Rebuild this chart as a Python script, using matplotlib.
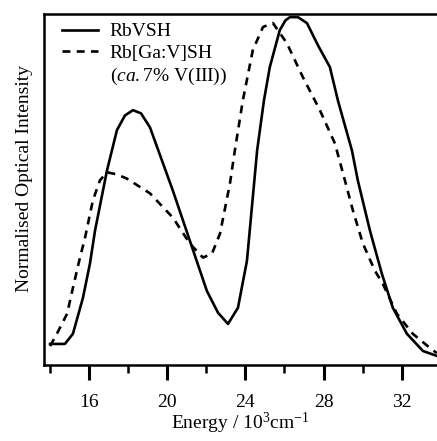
import matplotlib
matplotlib.use("Agg")
import matplotlib.pyplot as plt
from matplotlib.lines import Line2D

plt.rcParams["font.family"] = ["Liberation Serif", "DejaVu Serif"]
plt.rcParams["mathtext.fontset"] = "custom"
plt.rcParams["mathtext.rm"] = "Liberation Serif"
plt.rcParams["mathtext.it"] = "Liberation Serif:italic"

# RbVSH (solid)
energy_vsh = [14.01, 14.77, 15.18, 15.69, 16.05, 16.31, 16.92, 17.43, 17.84,
              18.25, 18.66, 19.12, 20.29, 21.16, 22.03, 22.60, 23.11, 23.62,
              24.08, 24.60, 24.95, 25.25, 25.76, 26.05, 26.28, 26.69, 27.15,
              27.71, 28.32, 28.73, 29.45, 29.75, 30.37, 30.98, 31.54, 32.26,
              33.08, 33.79]
int_vsh = [0.060, 0.060, 0.089, 0.191, 0.289, 0.383, 0.554, 0.669, 0.711,
           0.726, 0.717, 0.677, 0.497, 0.354, 0.211, 0.149, 0.117, 0.163,
           0.297, 0.611, 0.754, 0.849, 0.954, 0.982, 0.991, 0.991, 0.974,
           0.911, 0.849, 0.754, 0.611, 0.526, 0.383, 0.260, 0.163, 0.089,
           0.040, 0.026]

# Rb[Ga:V]SH, ca. 7% V(III) (dashed)
energy_ga = [14.01, 14.36, 14.88, 15.18, 15.54, 15.80, 16.20, 16.56, 16.92,
             17.43, 17.94, 19.12, 20.29, 21.16, 21.83, 22.29, 22.70, 23.21,
             23.46, 23.87, 24.38, 24.90, 25.41, 26.12, 26.94, 27.81, 28.58,
             29.09, 29.50, 30.01, 30.62, 31.03, 31.75, 32.56, 33.43, 33.79]
int_ga = [0.054, 0.089, 0.146, 0.220, 0.306, 0.363, 0.469, 0.526, 0.549,
          0.543, 0.531, 0.489, 0.420, 0.346, 0.306, 0.317, 0.374, 0.517,
          0.611, 0.754, 0.897, 0.963, 0.974, 0.917, 0.820, 0.726, 0.631,
          0.526, 0.440, 0.346, 0.269, 0.231, 0.146, 0.089, 0.049, 0.034]

major_ticks = [16, 20, 24, 28, 32]
minor_ticks = [14, 18, 22, 26, 30]

fig = plt.figure(figsize=(4.37, 4.41), dpi=100)
ax = fig.add_axes([44 / 437, 1 - 365 / 441, 393 / 437, 351 / 441])

dash = (0, (3.0, 2.4))
ax.plot(energy_vsh, int_vsh, color="black", lw=1.9, solid_joinstyle="round")
ax.plot(energy_ga, int_ga, color="black", lw=1.9, linestyle=dash)

ax.set_xlim(13.7, 33.8)
ax.set_ylim(0, 1)
ax.set_xticks(major_ticks)
ax.set_xticks(minor_ticks, minor=True)
ax.set_yticks([])
ax.tick_params(axis="x", which="major", direction="out", length=11, width=2.2,
               labelsize=14, pad=10)
ax.tick_params(axis="x", which="minor", direction="out", length=5.5, width=1.8)

for side in ["left", "bottom", "top"]:
    ax.spines[side].set_linewidth(1.8)
ax.spines["right"].set_visible(False)

ax.set_xlabel("Energy / 10$^{3}$cm$^{-1}$", fontsize=14, labelpad=0)
ax.set_ylabel("Normalised Optical Intensity", fontsize=14)
ax.yaxis.set_label_coords(-0.028, 0.53)

handles = [
    Line2D([], [], color="black", lw=1.9),
    Line2D([], [], color="black", lw=1.9, linestyle=dash),
    Line2D([], [], color="none"),
]
labels = ["RbVSH", "Rb[Ga:V]SH", "($ca.$7% V(III))"]
ax.legend(handles, labels, loc="upper left", bbox_to_anchor=(0.046, 0.975),
          frameon=False, fontsize=14, handlelength=1.85, handletextpad=0.6,
          borderpad=0, borderaxespad=0, labelspacing=0.2)

fig.savefig("out.png", dpi=100)
